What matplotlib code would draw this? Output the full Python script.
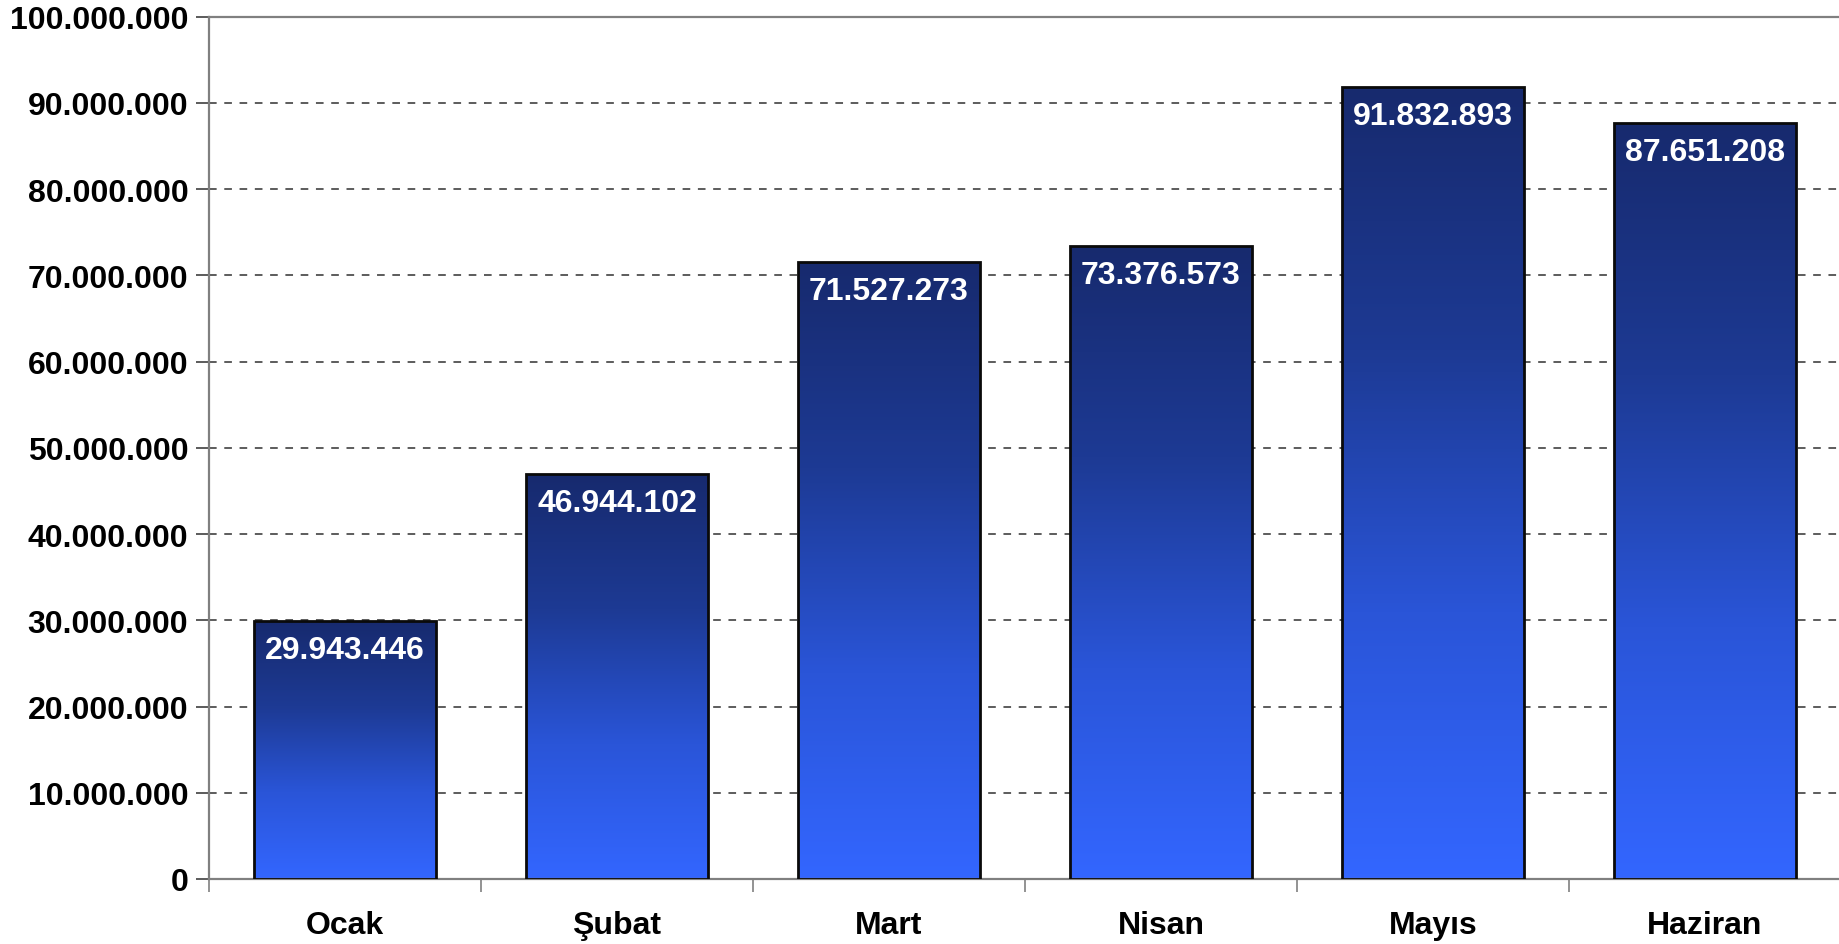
import matplotlib
matplotlib.use("Agg")
import matplotlib.pyplot as plt
import numpy as np
from matplotlib.colors import LinearSegmentedColormap
from matplotlib.ticker import FuncFormatter, FixedLocator

categories = ["Ocak", "Şubat", "Mart", "Nisan", "Mayıs", "Haziran"]
values = [29943446, 46944102, 71527273, 73376573, 91832893, 87651208]
yticks = list(range(0, 100000001, 10000000))

plt.rcParams['font.family'] = ['Liberation Sans', 'DejaVu Sans']
plt.rcParams['font.weight'] = 'bold'

def fmt(v):
    return f"{int(v):,}".replace(",", ".")

fig = plt.figure(figsize=(18.4, 9.45), dpi=100)
ax = fig.add_axes([209/1840, 1 - 880/945, (1841 - 209)/1840, (880 - 17.6)/945])

cmap = LinearSegmentedColormap.from_list("g", ["#172a6e", "#1d3a94", "#2a55d8", "#3366ff"])
grad = np.linspace(0, 1, 256).reshape(-1, 1)

x = np.arange(len(categories))
width = 0.668
bars = ax.bar(x, values, width=width, color='none', edgecolor='#0a0a0a', linewidth=2.0, zorder=3)
for b in bars:
    x0, w, h = b.get_x(), b.get_width(), b.get_height()
    im = ax.imshow(grad, cmap=cmap, aspect='auto', extent=[x0, x0 + w, 0, h],
                   origin='upper', zorder=2, interpolation='bilinear')
    im.set_clip_path(b)

for xi, v in zip(x, values):
    ax.annotate(fmt(v), (xi, v), xytext=(0, -21), textcoords='offset points',
                ha='center', va='center', color='white', fontsize=23, fontweight='bold', zorder=4)

ax.set_xlim(-0.5, 5.5)
ax.set_ylim(0, 100000000)
ax.set_yticks(yticks)
ax.yaxis.set_major_formatter(FuncFormatter(lambda v, p: fmt(v)))
ax.set_xticks(x)
ax.set_xticklabels(categories)
ax.xaxis.set_minor_locator(FixedLocator(np.arange(-0.5, 6.0, 1.0)))

ax.tick_params(axis='y', direction='out', length=9.4, width=1.2, color='#404040',
               labelsize=23, pad=5.5)
ax.tick_params(axis='x', which='major', length=0, labelsize=23, pad=22)
ax.tick_params(axis='x', which='minor', direction='out', length=9.4, width=1.2, color='#808080')

ax.yaxis.grid(True, linestyle=(0, (5, 5)), color='#303030', linewidth=1.1, zorder=1)
ax.set_axisbelow(True)

for s in ['left', 'bottom', 'top']:
    ax.spines[s].set_color('#808080')
    ax.spines[s].set_linewidth(1.6)
ax.spines['right'].set_visible(False)

fig.savefig("out.png", dpi=100)
